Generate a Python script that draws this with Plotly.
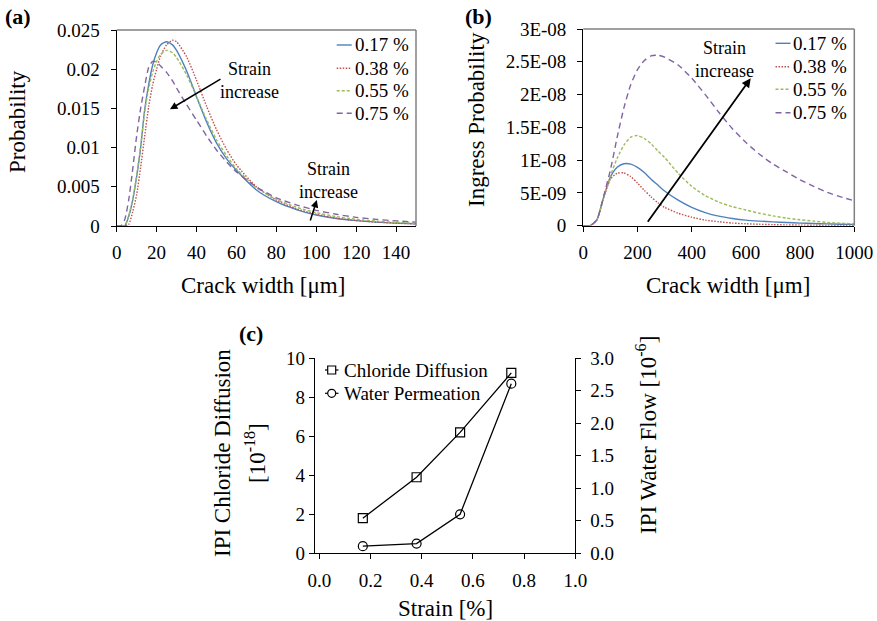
import plotly.graph_objects as go

# ---------------- data ----------------
# (a) crack width distribution
crack_a = [0, 2, 4, 6, 8, 10, 12, 14, 16, 18, 20, 22, 25, 28, 30, 35, 40, 45, 50, 55,
           60, 70, 80, 90, 100, 110, 120, 130, 140, 150]
prob_017 = [0, 0, 0, 0.0012, 0.0033, 0.0063, 0.0100, 0.0148, 0.0180, 0.0205, 0.0221, 0.0231,
            0.0235, 0.0231, 0.0224, 0.0198, 0.0165, 0.0133, 0.0106, 0.0086, 0.0071, 0.0046,
            0.0031, 0.0021, 0.0014, 0.00095, 0.00068, 0.0005, 0.00037, 0.00028]
prob_038 = [0, 0, 0, 0.0002, 0.0018, 0.0040, 0.0075, 0.0114, 0.0152, 0.0180, 0.0200, 0.0217,
            0.0231, 0.0237, 0.0235, 0.0216, 0.0186, 0.0153, 0.0123, 0.0098, 0.0078, 0.0050,
            0.0033, 0.0022, 0.0015, 0.0010, 0.0007, 0.0005, 0.00036, 0.00027]
prob_055 = [0, 0, 0, 0.0013, 0.0034, 0.0064, 0.0101, 0.0145, 0.0175, 0.0196, 0.0210, 0.0219,
            0.0224, 0.0221, 0.0215, 0.0193, 0.0165, 0.0136, 0.0110, 0.0090, 0.0073, 0.0049,
            0.0034, 0.0024, 0.0017, 0.0012, 0.00085, 0.00062, 0.00046, 0.00035]
prob_075 = [0, 0, 0.0008, 0.0033, 0.0072, 0.0115, 0.0150, 0.0178, 0.0202, 0.0210, 0.0209, 0.0204,
            0.0196, 0.0185, 0.0176, 0.0155, 0.0135, 0.0115, 0.0097, 0.0082, 0.0069, 0.0050,
            0.0036, 0.0027, 0.0020, 0.0015, 0.0011, 0.00085, 0.00065, 0.0005]

# (b) ingress probability (values in units of 1E-09)
crack_b = [0, 25, 50, 75, 100, 125, 150, 175, 200, 225, 250, 275, 300, 350, 400, 450, 500,
           550, 600, 650, 700, 750, 800, 850, 900, 950, 1000]
ingress_017 = [0, 0, 0.9, 4.3, 7.4, 8.9, 9.45, 9.4, 8.9, 8.1, 7.1, 6.2, 5.3, 3.9, 2.8, 2.0,
               1.45, 1.1, 0.85, 0.7, 0.58, 0.48, 0.4, 0.33, 0.28, 0.23, 0.2]
ingress_038 = [0, 0, 0.9, 4.3, 7.1, 8.0, 8.05, 7.5, 6.5, 5.4, 4.4, 3.5, 2.8, 1.9, 1.3, 0.85,
               0.6, 0.4, 0.3, 0.22, 0.16, 0.12, 0.09, 0.07, 0.05, 0.04, 0.03]
ingress_055 = [0, 0, 0.9, 4.3, 7.6, 10.3, 12.3, 13.5, 13.75, 13.3, 12.5, 11.4, 10.4, 8.0, 6.0,
               4.6, 3.6, 2.9, 2.4, 1.9, 1.5, 1.15, 0.9, 0.7, 0.5, 0.38, 0.28]
ingress_075 = [0, 0, 0.9, 4.5, 8.5, 13.5, 18.0, 21.5, 23.8, 25.2, 25.9, 26.0, 25.7, 24.5, 22.5,
               20.0, 17.3, 14.8, 12.7, 10.9, 9.4, 8.2, 7.0, 6.0, 5.1, 4.4, 3.8]
INGRESS_UNIT = 1e-9

# (c) IPI vs strain
strain = [0.17, 0.38, 0.55, 0.75]
ipi_chloride = [1.8, 3.9, 6.2, 9.25]
ipi_water = [0.11, 0.15, 0.6, 2.61]

series_names = ["0.17 %", "0.38 %", "0.55 %", "0.75 %"]
ipi_names = ["Chloride Diffusion", "Water Permeation"]
a_ticks = [0, 0.005, 0.01, 0.015, 0.02, 0.025]
a_ticktext = ["0", "0.005", "0.01", "0.015", "0.02", "0.025"]
b_ticks = [0, 5e-9, 1e-8, 1.5e-8, 2e-8, 2.5e-8, 3e-8]
b_ticktext = ["0", "5E-09", "1E-08", "1.5E-08", "2E-08", "2.5E-08", "3E-08"]

# ---------------- styles ----------------
FONT = "Liberation Serif, Times New Roman, serif"
colors = ["#4F81BD", "#C0504D", "#9BBB59", "#8064A2"]
dashes = ["solid", "1.5px,1.5px", "3px,2px", "6px,4px"]
W, H = 877, 621


def px_x(p):
    return p / W


def px_y(p):
    return 1 - p / H


fig = go.Figure()

for name, ys, c, d in zip(series_names, [prob_017, prob_038, prob_055, prob_075], colors, dashes):
    fig.add_trace(go.Scatter(x=crack_a, y=ys, mode="lines", name=name, showlegend=False,
                             line=dict(color=c, dash=d, width=1.4, shape="spline", smoothing=0.6),
                             xaxis="x", yaxis="y"))

for name, ys, c, d in zip(series_names, [ingress_017, ingress_038, ingress_055, ingress_075], colors, dashes):
    fig.add_trace(go.Scatter(x=crack_b, y=[v * INGRESS_UNIT for v in ys], mode="lines", name=name,
                             showlegend=False,
                             line=dict(color=c, dash=d, width=1.4, shape="spline", smoothing=0.6),
                             xaxis="x2", yaxis="y2"))

fig.add_trace(go.Scatter(x=strain, y=ipi_chloride, mode="lines+markers", name=ipi_names[0],
                         showlegend=False, line=dict(color="black", width=1.3),
                         marker=dict(symbol="square-open", size=9, color="black", line=dict(width=1.2)),
                         xaxis="x3", yaxis="y3"))
fig.add_trace(go.Scatter(x=strain, y=ipi_water, mode="lines+markers", name=ipi_names[1],
                         showlegend=False, line=dict(color="black", width=1.3),
                         marker=dict(symbol="circle-open", size=9, color="black", line=dict(width=1.2)),
                         xaxis="x3", yaxis="y4"))

tickfont = dict(family=FONT, size=19, color="black")
axis_common = dict(showgrid=False, zeroline=False, showline=True, linecolor="black", linewidth=1.3,
                   ticks="outside", ticklen=5, tickcolor="black", tickwidth=1.2, tickfont=tickfont,
                   automargin=False)

fig.update_layout(
    width=W, height=H, margin=dict(l=0, r=0, t=0, b=0, autoexpand=False),
    paper_bgcolor="white", plot_bgcolor="white",
    font=dict(family=FONT, color="black"),
    showlegend=False,
    xaxis=dict(domain=[px_x(116.7), px_x(416)], range=[0, 150], tickvals=list(range(0, 141, 20)),
               anchor="y", ticklabelstandoff=4, **axis_common),
    yaxis=dict(domain=[px_y(226), px_y(30)], range=[0, 0.025], tickvals=a_ticks, ticktext=a_ticktext,
               anchor="x", ticklabelstandoff=7, **axis_common),
    xaxis2=dict(domain=[px_x(583.3), px_x(854.3)], range=[0, 1000], tickvals=list(range(0, 1001, 200)),
                anchor="y2", ticklabelstandoff=4, **axis_common),
    yaxis2=dict(domain=[px_y(225.7), px_y(29)], range=[0, 3e-8], tickvals=b_ticks, ticktext=b_ticktext,
                anchor="x2", ticklabelstandoff=7, **axis_common),
    xaxis3=dict(domain=[px_x(315), px_x(575.3)], range=[-0.0168, 1.0], tickvals=[0, 0.2, 0.4, 0.6, 0.8, 1.0],
                tickformat=".1f", anchor="y3", ticklabelstandoff=5, **axis_common),
    yaxis3=dict(domain=[px_y(553.3), px_y(358.3)], range=[0, 10], tickvals=[0, 2, 4, 6, 8, 10],
                anchor="x3", **axis_common),
    yaxis4=dict(range=[0, 3], tickvals=[0, 0.5, 1, 1.5, 2, 2.5, 3], tickformat=".1f",
                overlaying="y3", side="right", anchor="x3", ticklabelstandoff=5, **axis_common),
)

# gray top/right borders for (a) and (b)
for xr, yr in [("x domain", "y domain"), ("x2 domain", "y2 domain")]:
    fig.add_shape(type="line", xref=xr, yref=yr, x0=0, x1=1, y0=1, y1=1, line=dict(color="#808080", width=1.5))
    fig.add_shape(type="line", xref=xr, yref=yr, x0=1, x1=1, y0=0, y1=1, line=dict(color="#808080", width=1.5))

ann_font = dict(family=FONT, size=18, color="black")
title_font = dict(family=FONT, size=23, color="black")
leg_font = dict(family=FONT, size=19, color="black")

annotations = []

# manual legends for (a) and (b)
for (lx0, lx1, tx, rows) in [(336.7, 351.7, 352.5, [45, 68.3, 90.7, 113.3]),
                              (775.5, 790.5, 791.0, [43.3, 66.7, 89.3, 112.7])]:
    for name, c, d, ry in zip(series_names, colors, dashes, rows):
        fig.add_shape(type="line", xref="paper", yref="paper", x0=px_x(lx0), x1=px_x(lx1),
                      y0=px_y(ry), y1=px_y(ry), line=dict(color=c, dash=d, width=1.4))
        annotations.append(dict(text=name, x=px_x(tx), y=px_y(ry), xref="paper", yref="paper",
                                xanchor="left", yanchor="middle", showarrow=False, font=leg_font))

# manual legend for (c)
for name, sym, ry in zip(ipi_names, ["rect", "circle"], [370, 393.3]):
    fig.add_shape(type="line", xref="paper", yref="paper", x0=px_x(325), x1=px_x(338.5),
                  y0=px_y(ry), y1=px_y(ry), line=dict(color="black", width=1.2))
    fig.add_shape(type=sym, xref="paper", yref="paper", x0=px_x(327.7), x1=px_x(335.7),
                  y0=px_y(ry - 4), y1=px_y(ry + 4), line=dict(color="black", width=1.2),
                  fillcolor="white")
    annotations.append(dict(text=name, x=px_x(342), y=px_y(ry), xref="paper", yref="paper",
                            xanchor="left", yanchor="middle", showarrow=False, font=leg_font))

annotations += [
    # panel labels
    dict(text="<b>(a)</b>", x=px_x(3), y=px_y(16), xref="paper", yref="paper", xanchor="left",
         yanchor="middle", showarrow=False, font=dict(family=FONT, size=22)),
    dict(text="<b>(b)</b>", x=px_x(463), y=px_y(16), xref="paper", yref="paper", xanchor="left",
         yanchor="middle", showarrow=False, font=dict(family=FONT, size=22)),
    dict(text="<b>(c)</b>", x=px_x(237), y=px_y(333), xref="paper", yref="paper", xanchor="left",
         yanchor="middle", showarrow=False, font=dict(family=FONT, size=22)),
    # axis titles
    dict(text="Crack width [μm]", x=px_x(263), y=px_y(285), xref="paper", yref="paper",
         showarrow=False, font=title_font, xanchor="center", yanchor="middle"),
    dict(text="Probability", x=px_x(18), y=px_y(122), xref="paper", yref="paper", textangle=-90,
         showarrow=False, font=title_font, xanchor="center", yanchor="middle"),
    dict(text="Crack width [μm]", x=px_x(728), y=px_y(285), xref="paper", yref="paper",
         showarrow=False, font=title_font, xanchor="center", yanchor="middle"),
    dict(text="Ingress Probability", x=px_x(477), y=px_y(120), xref="paper", yref="paper", textangle=-90,
         showarrow=False, font=title_font, xanchor="center", yanchor="middle"),
    dict(text="Strain [%]", x=px_x(445), y=px_y(608), xref="paper", yref="paper",
         showarrow=False, font=title_font, xanchor="center", yanchor="middle"),
    dict(text="IPI Chloride Diffusion", x=px_x(222), y=px_y(453), xref="paper", yref="paper", textangle=-90,
         showarrow=False, font=title_font, xanchor="center", yanchor="middle"),
    dict(text="[10<sup>-18</sup>]", x=px_x(255), y=px_y(453), xref="paper", yref="paper", textangle=-90,
         showarrow=False, font=title_font, xanchor="center", yanchor="middle"),
    dict(text="IPI Water Flow [10<sup>-6</sup>]", x=px_x(646), y=px_y(435), xref="paper", yref="paper",
         textangle=-90, showarrow=False, font=title_font, xanchor="center", yanchor="middle"),
    # strain increase notes
    dict(text="Strain<br>increase", x=66.8, y=0.0186, xref="x", yref="y", showarrow=False,
         font=ann_font, align="center"),
    dict(text="", x=26.7, y=0.01489, xref="x", yref="y", ax=52, ay=-31, showarrow=True,
         arrowhead=2, arrowsize=1, arrowwidth=1.5, arrowcolor="black"),
    dict(text="Strain<br>increase", x=105.9, y=0.0058, xref="x", yref="y", showarrow=False,
         font=ann_font, align="center"),
    dict(text="", x=100.3, y=0.00332, xref="x", yref="y", ax=-7, ay=22, showarrow=True,
         arrowhead=2, arrowsize=1, arrowwidth=1.5, arrowcolor="black"),
    dict(text="Strain<br>increase", x=522.5, y=25.3e-9, xref="x2", yref="y2", showarrow=False,
         font=ann_font, align="center"),
    dict(text="", x=617.7, y=22.48e-9, xref="x2", yref="y2", ax=-104, ay=145, showarrow=True,
         arrowhead=2, arrowsize=1, arrowwidth=1.8, arrowcolor="black"),
]
fig.update_layout(annotations=annotations)

fig.write_html("out.html")
